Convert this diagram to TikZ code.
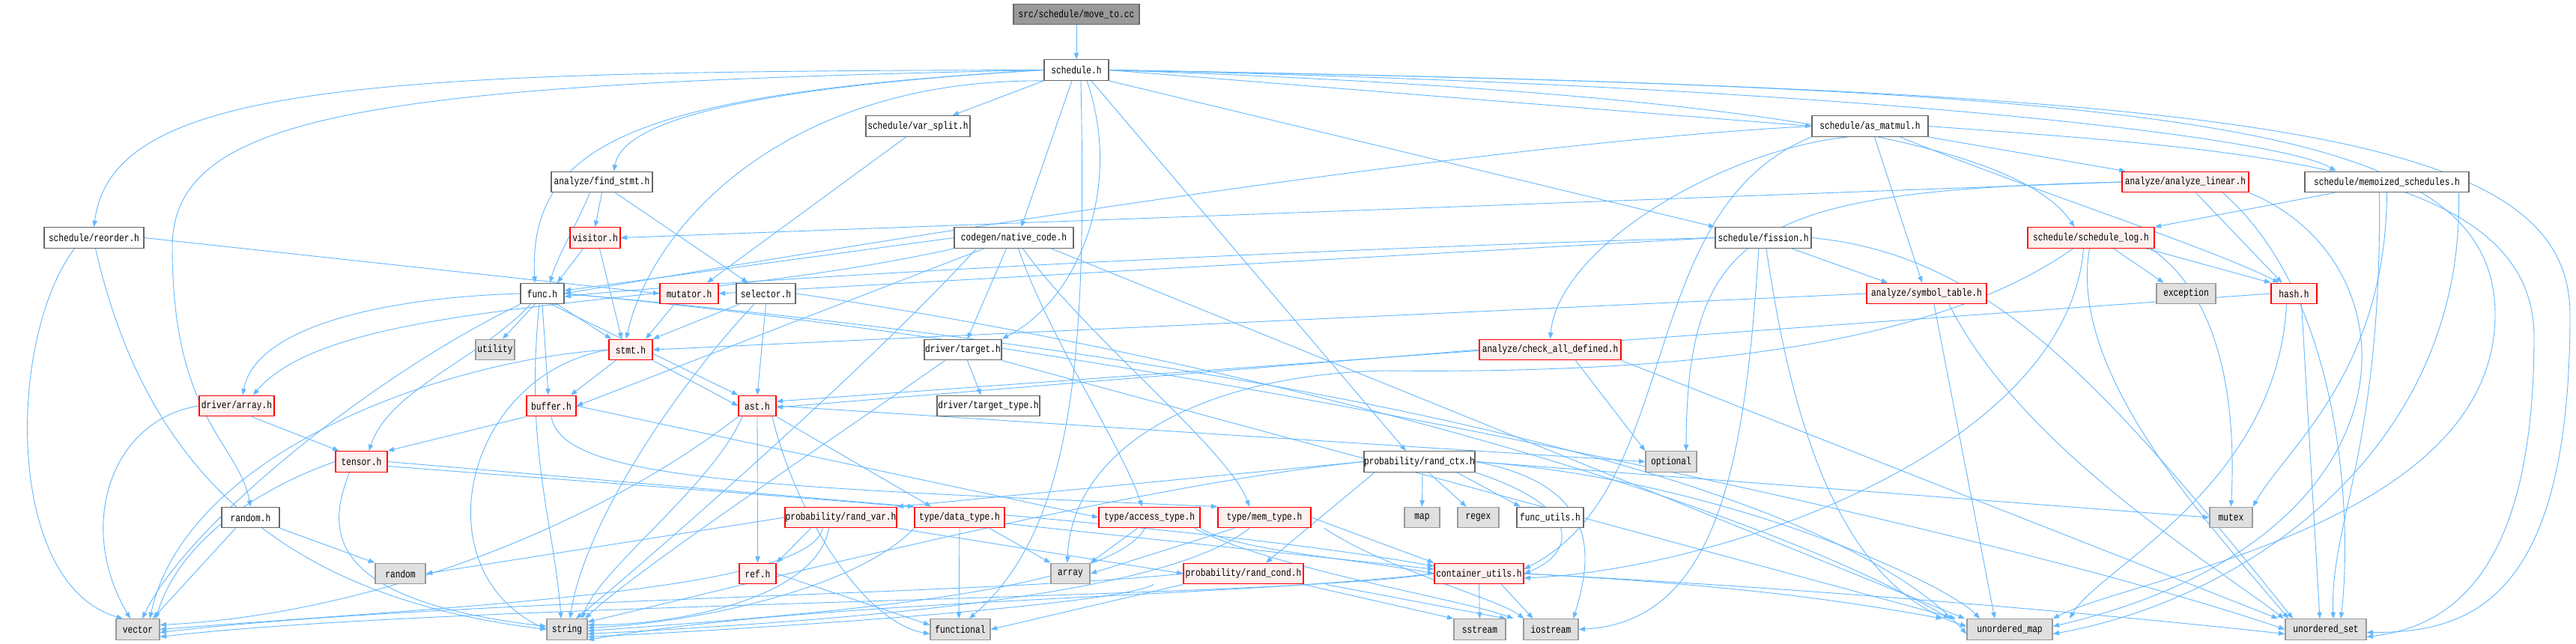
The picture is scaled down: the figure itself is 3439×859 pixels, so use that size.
\documentclass[tikz,border=0pt]{standalone}
\usepackage{fontspec}
\newfontfamily\nodefont[FakeStretch=0.8]{Liberation Mono}
\usetikzlibrary{arrows.meta}
\definecolor{edgec}{HTML}{63B8FF}
\definecolor{wborder}{HTML}{666666}
\definecolor{rfill}{HTML}{FFF0F0}
\definecolor{gfill}{HTML}{E0E0E0}
\definecolor{gborder}{HTML}{999999}
\pgfdeclarelayer{back}
\pgfdeclarelayer{bg}
\pgfsetlayers{back,bg,main}
\tikzset{
  box/.style={draw, inner sep=0pt, minimum height=13.75pt, line width=0.7pt, font=\nodefont\fontsize{7pt}{8pt}\selectfont, text=black},
  wn/.style={box, draw=wborder, fill=white},
  rn/.style={box, draw=red, fill=rfill},
  gn/.style={box, draw=gborder, fill=gfill},
  rootn/.style={box, draw=wborder, fill=gborder},
  e/.style={draw=edgec, line width=0.45pt, -{Triangle[length=4.2pt,width=3.2pt]}}
}
\begin{document}
\begin{tikzpicture}[x=0.5pt,y=-0.5pt]
\begin{pgfonlayer}{back}
\fill[white] (0,0) rectangle (3439,859);
\end{pgfonlayer}
\useasboundingbox (0,0) rectangle (3439,859);
% nodes
\node[rootn, minimum width=84pt] (mv) at (1437,19) {src/schedule/move\_to.cc};
\node[wn, minimum width=43pt] (sch) at (1437,93.5) {schedule.h};
\node[wn, minimum width=69.5pt] (vsp) at (1225.5,168.5) {schedule/var\_split.h};
\node[wn, minimum width=77.5pt] (asm) at (2496.5,168.5) {schedule/as\_matmul.h};
\node[wn, minimum width=67.5pt] (fst) at (803.5,243) {analyze/find\_stmt.h};
\node[rn, minimum width=84.5pt] (alin) at (2917.5,243) {analyze/analyze\_linear.h};
\node[wn, minimum width=109.5pt] (memo) at (3186.5,243) {schedule/memoized\_schedules.h};
\node[wn, minimum width=66.5pt] (reo) at (125.5,317.5) {schedule/reorder.h};
\node[rn, minimum width=33.5pt] (vis) at (794.5,317.5) {visitor.h};
\node[wn, minimum width=79.5pt] (nat) at (1353.5,317.5) {codegen/native\_code.h};
\node[wn, minimum width=64pt] (fis) at (2354,317.5) {schedule/fission.h};
\node[rn, minimum width=84.5pt] (slog) at (2791.5,317.5) {schedule/schedule\_log.h};
\node[wn, minimum width=29pt] (fnc) at (724,392) {func.h};
\node[rn, minimum width=39pt] (mut) at (920,392) {mutator.h};
\node[wn, minimum width=39.5pt] (sel) at (1022.5,392) {selector.h};
\node[rn, minimum width=80pt] (symt) at (2572,392) {analyze/symbol\_table.h};
\node[gn, minimum width=39.5pt] (exc) at (2918.5,392) {exception};
\node[rn, minimum width=30.5pt] (hsh) at (3062.5,392) {hash.h};
\node[gn, minimum width=26pt] (utl) at (661,467) {utility};
\node[rn, minimum width=29pt] (stm) at (842,467) {stmt.h};
\node[wn, minimum width=51.5pt] (tgt) at (1285.5,467) {driver/target.h};
\node[rn, minimum width=94.5pt] (cad) at (2069.5,467) {analyze/check\_all\_defined.h};
\node[rn, minimum width=50pt] (darr) at (316,542) {driver/array.h};
\node[rn, minimum width=33pt] (buf) at (736,542) {buffer.h};
\node[rn, minimum width=25pt] (ast) at (1011,542) {ast.h};
\node[wn, minimum width=68.5pt] (ttyp) at (1319.5,542) {driver/target\_type.h};
\node[rn, minimum width=34.5pt] (tns) at (482.5,616.5) {tensor.h};
\node[wn, minimum width=74pt] (rctx) at (1895,616.5) {probability/rand\_ctx.h};
\node[gn, minimum width=34pt] (opt) at (2231,616.5) {optional};
\node[wn, minimum width=38.5pt] (rndh) at (334.5,691) {random.h};
\node[rn, minimum width=74.5pt] (rvar) at (1122.5,691) {probability/rand\_var.h};
\node[rn, minimum width=60pt] (dtyp) at (1281,691) {type/data\_type.h};
\node[rn, minimum width=67.5pt] (atyp) at (1534.5,691) {type/access\_type.h};
\node[rn, minimum width=62pt] (mtyp) at (1688,691) {type/mem\_type.h};
\node[gn, minimum width=23.5pt] (map) at (1898.5,691) {map};
\node[gn, minimum width=27.5pt] (rgx) at (1973.5,691) {regex};
\node[wn, minimum width=44.5pt] (futl) at (2069.5,691) {func\_utils.h};
\node[gn, minimum width=28.5pt] (mtx) at (2978.5,691) {mutex};
\node[gn, minimum width=33.5pt] (rnd) at (534.5,766) {random};
\node[rn, minimum width=24.5pt] (ref) at (1011.5,766) {ref.h};
\node[gn, minimum width=26pt] (arr) at (1429,766) {array};
\node[rn, minimum width=80pt] (rcond) at (1660,766) {probability/rand\_cond.h};
\node[rn, minimum width=59.5pt] (cut) at (1974.5,766) {container\_utils.h};
\node[gn, minimum width=29pt] (vec) at (184,840.5) {vector};
\node[gn, minimum width=27pt] (str) at (757,840.5) {string};
\node[gn, minimum width=40pt] (fcl) at (1282,840.5) {functional};
\node[gn, minimum width=34.5pt] (sst) at (1975.5,840.5) {sstream};
\node[gn, minimum width=36.5pt] (ios) at (2070.5,840.5) {iostream};
\node[gn, minimum width=57pt] (umap) at (2683,840.5) {unordered\_map};
\node[gn, minimum width=54pt] (uset) at (3105,840.5) {unordered\_set};
% edges
\begin{pgfonlayer}{bg}
\draw[e] (mv) -- (sch);
% schedule.h
\draw[e] (sch.west) .. controls (500,95) and (150,110) .. (reo.north);
\draw[e] (sch.west) .. controls (500,112) and (230,150) .. (230,330) .. controls (230,560) and (318,590) .. (rndh.north);
\draw[e] (sch.west) .. controls (850,125) and (705,190) .. ([xshift=-5pt]fnc.north);
\draw[e] (sch.west) .. controls (950,120) and (830,170) .. ([xshift=8pt]fst.north);
\draw[e] (sch.south west) .. controls (1050,105) and (870,300) .. ([xshift=-3pt]stm.north);
\draw[e] (sch.south west) -- ([xshift=23pt]vsp.north);
\draw[e] ([xshift=-3pt]sch.south) -- ([xshift=5pt]nat.north);
\draw[e] ([xshift=7pt]sch.south) .. controls (1500,250) and (1440,400) .. (tgt.north east);
\draw[e] ([xshift=3pt]sch.south) .. controls (1450,450) and (1440,700) .. ([xshift=6pt]fcl.north);
\draw[e] ([xshift=10pt]sch.south) -- ([xshift=-9pt]rctx.north);
\draw[e] (sch.south east) -- (fis.north west);
\draw[e] (sch.east) -- (asm.west);
\draw[e] (sch.east) .. controls (2400,125) and (2700,200) .. ([xshift=-11pt]slog.north);
\draw[e] (sch.east) .. controls (2500,115) and (3050,185) .. ([xshift=-34pt]memo.north);
\draw[e] (sch.east) .. controls (3000,120) and (3431,170) .. (3431,420) .. controls (3431,800) and (3300,845) .. ([yshift=-2pt]uset.east);
\draw[e] (sch.east) .. controls (2900,118) and (3331,160) .. (3331,420) .. controls (3331,700) and (2850,770) .. (umap.north east);
% reorder
\draw[e] (reo.east) -- (mut.west);
\draw[e] ([xshift=-13pt]reo.south) .. controls (10,450) and (5,780) .. ([xshift=-10pt]vec.north);
\draw[e] ([xshift=1pt]reo.south) .. controls (200,650) and (400,800) .. (str.west);
% var_split
\draw[e] ([xshift=-8pt]vsp.south) -- ([xshift=12pt]mut.north);
% find_stmt
\draw[e] ([xshift=-8pt]fst.south) .. controls (770,300) and (745,340) .. ([xshift=5pt]fnc.north);
\draw[e] (fst.south) -- (vis.north);
\draw[e] ([xshift=9pt]fst.south) -- ([xshift=-12pt]sel.north);
% visitor
\draw[e] ([xshift=-8pt]vis.south) -- ([xshift=10pt]fnc.north);
\draw[e] ([xshift=3pt]vis.south) -- ([xshift=-6pt]stm.north);
% native_code
\draw[e] (nat.west) -- ([yshift=2pt]fnc.east);
\draw[e] (nat.south west) .. controls (900,415) and (450,395) .. ([xshift=11pt]darr.north);
\draw[e] ([xshift=-5pt]nat.south) -- ([xshift=3pt]tgt.north);
\draw[e] ([xshift=-20pt]nat.south) -- (buf.east);
\draw[e] ([xshift=3pt]nat.south) .. controls (1400,450) and (1500,600) .. ([xshift=-5pt]atyp.north);
\draw[e] ([xshift=6pt]nat.south) .. controls (1450,450) and (1640,600) .. ([xshift=-10pt]mtyp.north);
\draw[e] ([xshift=-25pt]nat.south) .. controls (1150,500) and (850,760) .. ([xshift=6pt]str.north);
\draw[e] ([xshift=25pt]nat.south) -- ([xshift=-30pt]umap.north);
% as_matmul
\draw[e] (asm.south east) -- ([xshift=-40pt]alin.north);
\draw[e] ([xshift=-15pt]asm.south) .. controls (2300,200) and (2080,330) .. (cad.north);
\draw[e] ([xshift=3pt]asm.south) -- ([xshift=-3pt]symt.north);
\draw[e] ([xshift=20pt]asm.south) .. controls (2700,250) and (2950,330) .. ([xshift=-10pt]hsh.north);
\draw[e] (asm.west) .. controls (2000,190) and (1300,300) .. (fnc.east);
\draw[e] (asm.south west) .. controls (2180,280) and (2250,650) .. ([yshift=3pt]cut.east);
\draw[e] (asm.east) .. controls (3000,200) and (3383,220) .. (3383,450) .. controls (3383,780) and (3260,838) .. ([yshift=-5pt]uset.east);
% analyze_linear
\draw[e] (alin.west) -- (vis.east);
\draw[e] (alin.west) .. controls (2350,255) and (2252,300) .. ([xshift=10pt]opt.north);
\draw[e] ([xshift=7pt]alin.south) -- ([xshift=-8pt]hsh.north);
\draw[e] ([xshift=25pt]alin.south) .. controls (3130,400) and (3140,700) .. ([xshift=10pt]uset.north);
\draw[e] (alin.south east) .. controls (3230,350) and (3240,720) .. ([yshift=2pt]umap.east);
% memoized
\draw[e] ([xshift=-35pt]memo.south) -- (slog.north east);
\draw[e] (memo.south) .. controls (3185,500) and (3050,600) .. (mtx.north east);
\draw[e] ([xshift=48pt]memo.south) .. controls (3290,600) and (3000,800) .. ([yshift=-3pt]umap.east);
\draw[e] ([xshift=-5pt]memo.south) .. controls (3180,600) and (3110,700) .. ([xshift=5pt]uset.north);
% fission
\draw[e] (fis.west) -- (mut.east);
\draw[e] (fis.west) .. controls (1800,330) and (1000,370) .. ([yshift=-2pt]fnc.east);
\draw[e] ([xshift=19pt]fis.south) -- ([xshift=-26pt]symt.north);
\draw[e] ([xshift=-3pt]fis.south) .. controls (2330,600) and (2300,830) .. (ios.east);
\draw[e] ([xshift=2pt]fis.south) .. controls (2390,550) and (2450,780) .. ([yshift=2pt]umap.west);
\draw[e] (fis.east) .. controls (2650,340) and (2800,500) .. ([xshift=-22pt]uset.north);
% schedule_log
\draw[e] ([xshift=15pt]slog.south) -- ([xshift=-15pt]exc.north);
\draw[e] ([xshift=37pt]slog.south) -- (hsh.north west);
\draw[e] ([xshift=40pt]slog.south) .. controls (2970,400) and (2985,550) .. (mtx.north);
\draw[e] ([xshift=-12pt]slog.south) .. controls (2600,450) and (2300,500) .. (1850,495) .. controls (1600,500) and (1430,600) .. ([xshift=-2pt]arr.north);
\draw[e] ([xshift=-5pt]slog.south) .. controls (2760,600) and (2300,760) .. ([yshift=-3pt]cut.east);
\draw[e] ([xshift=-1pt]slog.south) .. controls (2760,500) and (2950,700) .. ([xshift=-25pt]uset.north);
% symbol_table
\draw[e] (symt.west) -- (stm.east);
\draw[e] ([xshift=5pt]symt.south) -- ([xshift=-10pt]umap.north);
\draw[e] ([xshift=15pt]symt.south) .. controls (2700,600) and (2950,750) .. ([xshift=-28pt]uset.north);
% hash
\draw[e] (hsh.west) -- ([yshift=3pt]ast.east);
\draw[e] ([xshift=-5pt]hsh.south) .. controls (3040,650) and (2800,760) .. ([xshift=40pt]umap.north);
\draw[e] ([xshift=5pt]hsh.south) -- ([xshift=-4pt]uset.north);
% check_all_defined
\draw[e] (cad.west) -- ([yshift=-1pt]ast.east);
\draw[e] ([xshift=17pt]cad.south) -- (opt.north west);
\draw[e] (cad.south east) -- ([xshift=-32pt]uset.north);
% func.h
\draw[e] (fnc.west) .. controls (500,398) and (340,440) .. ([xshift=4pt]darr.north);
\draw[e] ([xshift=-8pt]fnc.south) .. controls (640,480) and (520,520) .. ([xshift=5pt]tns.north);
\draw[e] ([xshift=-5pt]fnc.south) -- ([xshift=5pt]utl.north);
\draw[e] (fnc.south) -- ([xshift=-2pt]buf.north);
\draw[e] ([xshift=10pt]fnc.south) -- ([xshift=-13pt]stm.north);
\draw[e] ([xshift=6pt]fnc.south) -- (ast.north west);
\draw[e] (fnc.south west) .. controls (500,500) and (250,700) .. ([xshift=3pt]vec.north);
\draw[e] ([xshift=-2pt]fnc.south) .. controls (700,600) and (740,700) .. ([xshift=-4pt]str.north);
\draw[e] (fnc.east) .. controls (1500,460) and (2400,600) .. ([yshift=-3pt]umap.west);
\draw[e] (fnc.east) .. controls (1600,470) and (2700,720) .. (uset.west);
% mutator, selector
\draw[e] ([xshift=-10pt]mut.south) -- ([xshift=10pt]stm.north);
\draw[e] ([xshift=-18pt]sel.south) -- (stm.north east);
\draw[e] (sel.south) -- (ast.north);
\draw[e] ([xshift=-8pt]sel.south) .. controls (900,520) and (780,700) .. ([xshift=2pt]str.north);
\draw[e] (sel.east) .. controls (1600,470) and (2300,650) .. ([xshift=-40pt]umap.north);
% stmt.h
\draw[e] ([xshift=-10pt]stm.south) -- ([xshift=13pt]buf.north);
\draw[e] (stm.south east) -- (ast.west);
\draw[e] (stm.west) .. controls (620,500) and (560,760) .. (str.west);
\draw[e] (stm.west) .. controls (600,480) and (250,600) .. ([xshift=8pt]vec.north);
% buffer.h
\draw[e] (buf.south west) -- (tns.north east);
\draw[e] (buf.east) -- (atyp.west);
\draw[e] (buf.south) .. controls (750,640) and (1000,650) .. (mtyp.north west);
% tensor.h
\draw[e] (tns.west) .. controls (350,650) and (240,720) .. ([xshift=12pt]vec.north);
\draw[e] ([xshift=-8pt]tns.south) .. controls (440,700) and (420,800) .. ([yshift=2pt]str.west);
\draw[e] (tns.east) -- (dtyp.north west);
\draw[e] ([yshift=-3pt]tns.east) .. controls (1000,660) and (1600,700) .. ([yshift=5pt]cut.west);
% driver/array.h
\draw[e] ([xshift=10pt]darr.south) -- ([xshift=-15pt]tns.north);
\draw[e] (darr.west) .. controls (150,560) and (100,700) .. ([xshift=-5pt]vec.north);
% ast.h
\draw[e] (ast.south) -- (ref.north);
\draw[e] (ast.south east) -- ([xshift=-19pt]dtyp.north);
\draw[e] ([xshift=10pt]ast.south) .. controls (1060,680) and (1150,830) .. ([yshift=-3pt]fcl.west);
\draw[e] ([xshift=-10pt]ast.south) .. controls (950,650) and (800,760) .. ([xshift=10pt]str.north);
\draw[e] (ast.east) -- (opt.west);
\draw[e] (ast.south west) .. controls (800,700) and (500,820) .. ([yshift=3pt]vec.east);
% random.h
\draw[e] (rndh.south east) -- (rnd.north west);
\draw[e] ([xshift=-10pt]rndh.south) -- ([xshift=10pt]vec.north);
% rand_var
\draw[e] ([xshift=-20pt]rvar.south) -- (ref.north east);
\draw[e] (rvar.west) -- (rnd.east);
\draw[e] ([xshift=-12pt]rvar.south) .. controls (1080,790) and (600,810) .. (vec.east);
\draw[e] ([xshift=-8pt]rvar.south) .. controls (1090,800) and (900,835) .. ([yshift=3pt]str.east);
\draw[e] (rvar.south east) -- (rcond.west);
% ref
\draw[e] (ref.east) -- ([yshift=3pt]fcl.west);
% data_type
\draw[e] (dtyp.south) -- ([xshift=-1pt]fcl.north);
\draw[e] ([xshift=20pt]dtyp.south) -- (arr.north west);
\draw[e] ([yshift=-4pt]dtyp.east) -- ([yshift=3pt]cut.west);
\draw[e] (dtyp.south west) .. controls (1150,780) and (950,830) .. ([yshift=1pt]str.east);
% access_type
\draw[e] ([xshift=-8pt]atyp.south) -- (arr.north east);
\draw[e] ([xshift=-3pt]atyp.south) .. controls (1480,790) and (1100,820) .. ([yshift=-1pt]str.east);
\draw[e] (atyp.south east) .. controls (1650,735) and (1800,745) .. (cut.west);
\draw[e] ([xshift=30pt]atyp.south) .. controls (1700,760) and (1950,800) .. ([xshift=-25pt]ios.north);
% mem_type
\draw[e] ([xshift=-20pt]mtyp.south) -- (arr.east);
\draw[e] ([xshift=-10pt]mtyp.south) .. controls (1550,800) and (1100,830) .. ([yshift=-3pt]str.east);
\draw[e] (mtyp.east) -- (cut.north west);
\draw[e] ([xshift=40pt]mtyp.south) .. controls (1850,760) and (2000,800) .. ([xshift=-18pt]ios.north);
% rand_ctx
\draw[e] (rctx.west) -- (rvar.north east);
\draw[e] ([xshift=-30pt]rctx.south) -- ([xshift=15pt]rcond.north);
\draw[e] ([xshift=2pt]rctx.south) -- (map.north);
\draw[e] ([xshift=6pt]rctx.south) -- ([xshift=-8pt]rgx.north);
\draw[e] ([xshift=25pt]rctx.south) -- ([xshift=-20pt]futl.north);
\draw[e] (rctx.south east) .. controls (2120,680) and (2100,740) .. (cut.east);
\draw[e] (rctx.east) .. controls (2150,650) and (2120,760) .. ([xshift=15pt]ios.north);
\draw[e] (rctx.east) -- (mtx.west);
\draw[e] (rctx.west) .. controls (1500,650) and (1000,780) .. ([yshift=5pt]str.east);
\draw[e] (rctx.east) .. controls (2300,640) and (2600,780) .. ([xshift=-20pt]umap.north);
% rand_cond
\draw[e] (rcond.south west) -- (fcl.east);
\draw[e] ([xshift=-60pt]rcond.south) .. controls (1500,805) and (1100,835) .. ([yshift=-5pt]str.east);
\draw[e] (rcond.west) .. controls (1300,795) and (600,800) .. ([yshift=-2pt]vec.east);
\draw[e] ([xshift=55pt]rcond.south) -- ([xshift=-30pt]ios.north);
\draw[e] ([xshift=40pt]rcond.south) -- (sst.north west);
% container_utils
\draw[e] (cut.south) -- (sst.north);
\draw[e] ([xshift=15pt]cut.south) -- ([xshift=-12pt]ios.north);
\draw[e] (cut.west) .. controls (1700,800) and (600,805) .. ([yshift=-5pt]vec.east);
\draw[e] (cut.west) .. controls (1600,800) and (1100,800) .. ([yshift=-7pt]str.east);
\draw[e] (cut.east) .. controls (2300,780) and (2450,800) .. ([xshift=-45pt]umap.north);
\draw[e] (cut.east) .. controls (2500,790) and (2900,830) .. ([yshift=-3pt]uset.west);
% driver/target
\draw[e] ([xshift=3pt]tgt.south) -- ([xshift=-5pt]ttyp.north);
\draw[e] ([xshift=-12pt]tgt.south) .. controls (1150,560) and (850,760) .. ([xshift=12pt]str.north);
\draw[e] (tgt.south east) -- ([xshift=-36pt]umap.north);
\end{pgfonlayer}
\end{tikzpicture}
\end{document}
